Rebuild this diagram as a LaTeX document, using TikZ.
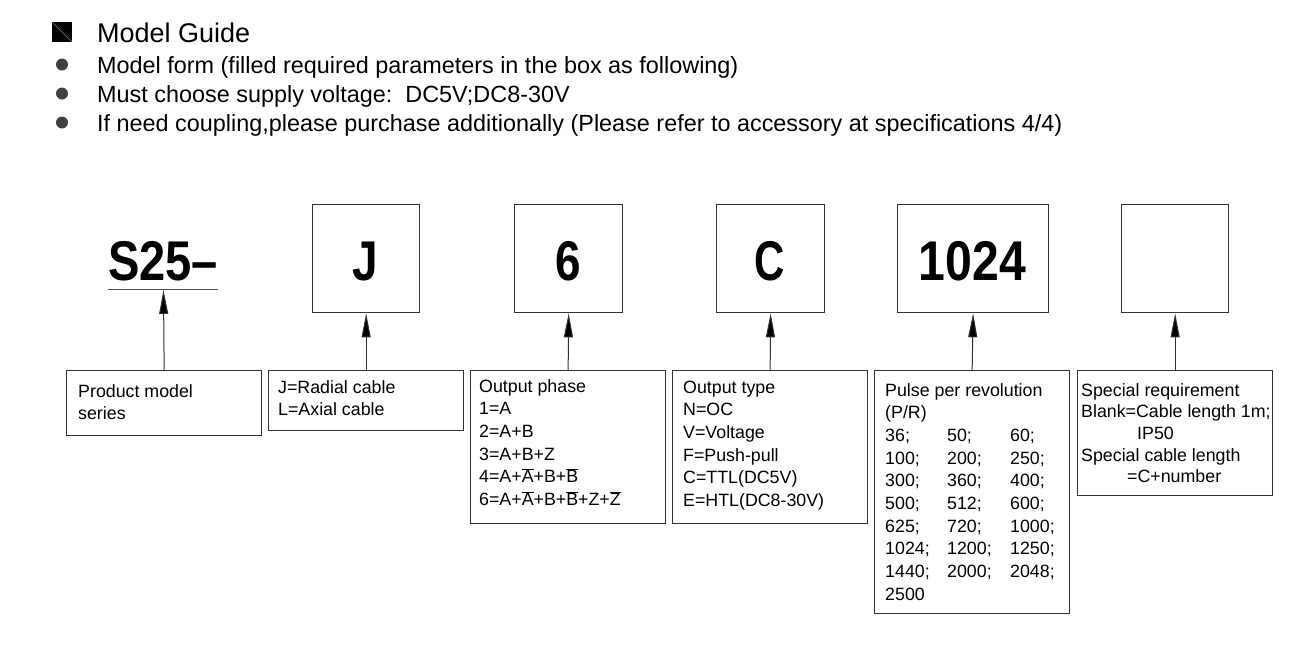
\documentclass[tikz,border=0pt]{standalone}
\usepackage{fontspec}
\setmainfont{Liberation Sans}
\usetikzlibrary{arrows.meta}
\newcommand\obar[1]{$\overline{\hbox{#1}}$}
\tikzset{
  topbox/.style={draw=black!80, line width=1.3pt, minimum height=108pt, inner sep=0pt, anchor=north west},
  botbox/.style={draw=black!80, line width=1.3pt, minimum width=195pt, inner sep=0pt, anchor=north west},
  big/.style={inner sep=0pt, anchor=base, font=\bfseries\fontsize{56}{60}\selectfont},
  txt/.style={inner sep=0pt, anchor=base west, font=\fontsize{17.8}{22.7}\selectfont},
  bul/.style={inner sep=0pt, anchor=base west, font=\fontsize{23.4}{26}\selectfont},
  arr/.style={draw=black!80, line width=1pt, -{Triangle[length=24pt, width=9pt, fill=black]}},
  dot/.style={circle, fill=black!75, minimum size=12pt, inner sep=0pt}
}
\begin{document}
\begin{tikzpicture}[x=1pt, y=-1pt]
\useasboundingbox (0,0) rectangle (1302,648);
% heading
\node[fill=black, minimum size=20pt, inner sep=0pt] (sq) at (62,32) {};
\draw[black!45, line width=0.4pt] (sq.north west) -- (sq.south east);
\node[inner sep=0pt, anchor=base west, font=\fontsize{27}{30}\selectfont] (hd) at (97,42) {Model Guide};
\node[dot] (d1) at (62,64.5) {};
\node[dot] (d2) at (62,93.5) {};
\node[dot] (d3) at (62,122.5) {};
\node[bul] (l1) at (97,73) {Model form (filled required parameters in the box as following)};
\node[bul] (l2) at (97,102) {Must choose supply voltage:\ \ DC5V;DC8-30V};
\node[bul] (l3) at (97,131) {If need coupling,please purchase additionally (Please refer to accessory at specifications 4/4)};
% top row
\node[big, anchor=base west] (s25) at (108,280) {\scalebox{0.84}[1]{S25–}};
\draw[black!70, line width=1pt] (108,289) coordinate (ula) -- (218,289) coordinate (ulb);
\coordinate (ul) at (163.5,290);
\node[topbox, minimum width=107pt] (t2) at (312,204) {};
\node[topbox, minimum width=108pt] (t3) at (514,204) {};
\node[topbox, minimum width=108pt] (t4) at (716,204) {};
\node[topbox, minimum width=151pt] (t5) at (897,204) {};
\node[topbox, minimum width=107pt] (t6) at (1121,204) {};
\node[big] (v2) at (365.5,280) {\scalebox{0.82}[1]{J}};
\node[big] (v3) at (568,280) {\scalebox{0.82}[1]{6}};
\node[big] (v4) at (770,280) {\scalebox{0.75}[1]{C}};
\node[big] (v5) at (972.5,280) {\scalebox{0.86}[1]{1024}};
% bottom row
\node[botbox, minimum height=65pt] (b1) at (66,370) {};
\node[botbox, minimum height=60pt] (b2) at (268,370) {};
\node[botbox, minimum height=153pt] (b3) at (470,370) {};
\node[botbox, minimum height=153pt] (b4) at (672,370) {};
\node[botbox, minimum height=243pt] (b5) at (874,370) {};
\node[botbox, minimum height=125pt] (b6) at (1077,370) {};
% connectors
\draw[arr] (b1.north) -- (ul);
\draw[arr] (b2.north) -- (t2.south);
\draw[arr] (b3.north) -- (t3.south);
\draw[arr] (b4.north) -- (t4.south);
\draw[arr] (b5.north) -- (t5.south);
\draw[arr] (b6.north) -- (t6.south);
% texts
\node[txt] (x1) at (78,397) {\begin{tabular}[t]{@{}l@{}}Product model\\series\end{tabular}};
\node[txt] (x2) at (278,393) {\begin{tabular}[t]{@{}l@{}}J=Radial cable\\L=Axial cable\end{tabular}};
\node[txt] (x3) at (479,392) {\begin{tabular}[t]{@{}l@{}}Output phase\\1=A\\2=A+B\\3=A+B+Z\\4=A+\obar{A}+B+\obar{B}\\6=A+\obar{A}+B+\obar{B}+Z+\obar{Z}\end{tabular}};
\node[txt] (x4) at (683,393) {\begin{tabular}[t]{@{}l@{}}Output type\\N=OC\\V=Voltage\\F=Push-pull\\C=TTL(DC5V)\\E=HTL(DC8-30V)\end{tabular}};
\node[txt] (x5) at (885,396) {\begin{tabular}[t]{@{}p{62pt}@{}p{63pt}@{}l@{}}\multicolumn{3}{@{}l@{}}{Pulse per revolution}\\\multicolumn{3}{@{}l@{}}{(P/R)}\\
36; & 50; & 60;\\
100; & 200; & 250;\\
300; & 360; & 400;\\
500; & 512; & 600;\\
625; & 720; & 1000;\\
1024; & 1200; & 1250;\\
1440; & 2000; & 2048;\\
2500 & & \end{tabular}};
\node[txt, font=\fontsize{17.8}{21.7}\selectfont] (x6) at (1081,396) {\begin{tabular}[t]{@{}l@{}}Special requirement\\Blank=Cable length 1m;\\\hspace*{56pt}IP50\\Special cable length\\\hspace*{46pt}=C+number\end{tabular}};
\end{tikzpicture}
\end{document}
